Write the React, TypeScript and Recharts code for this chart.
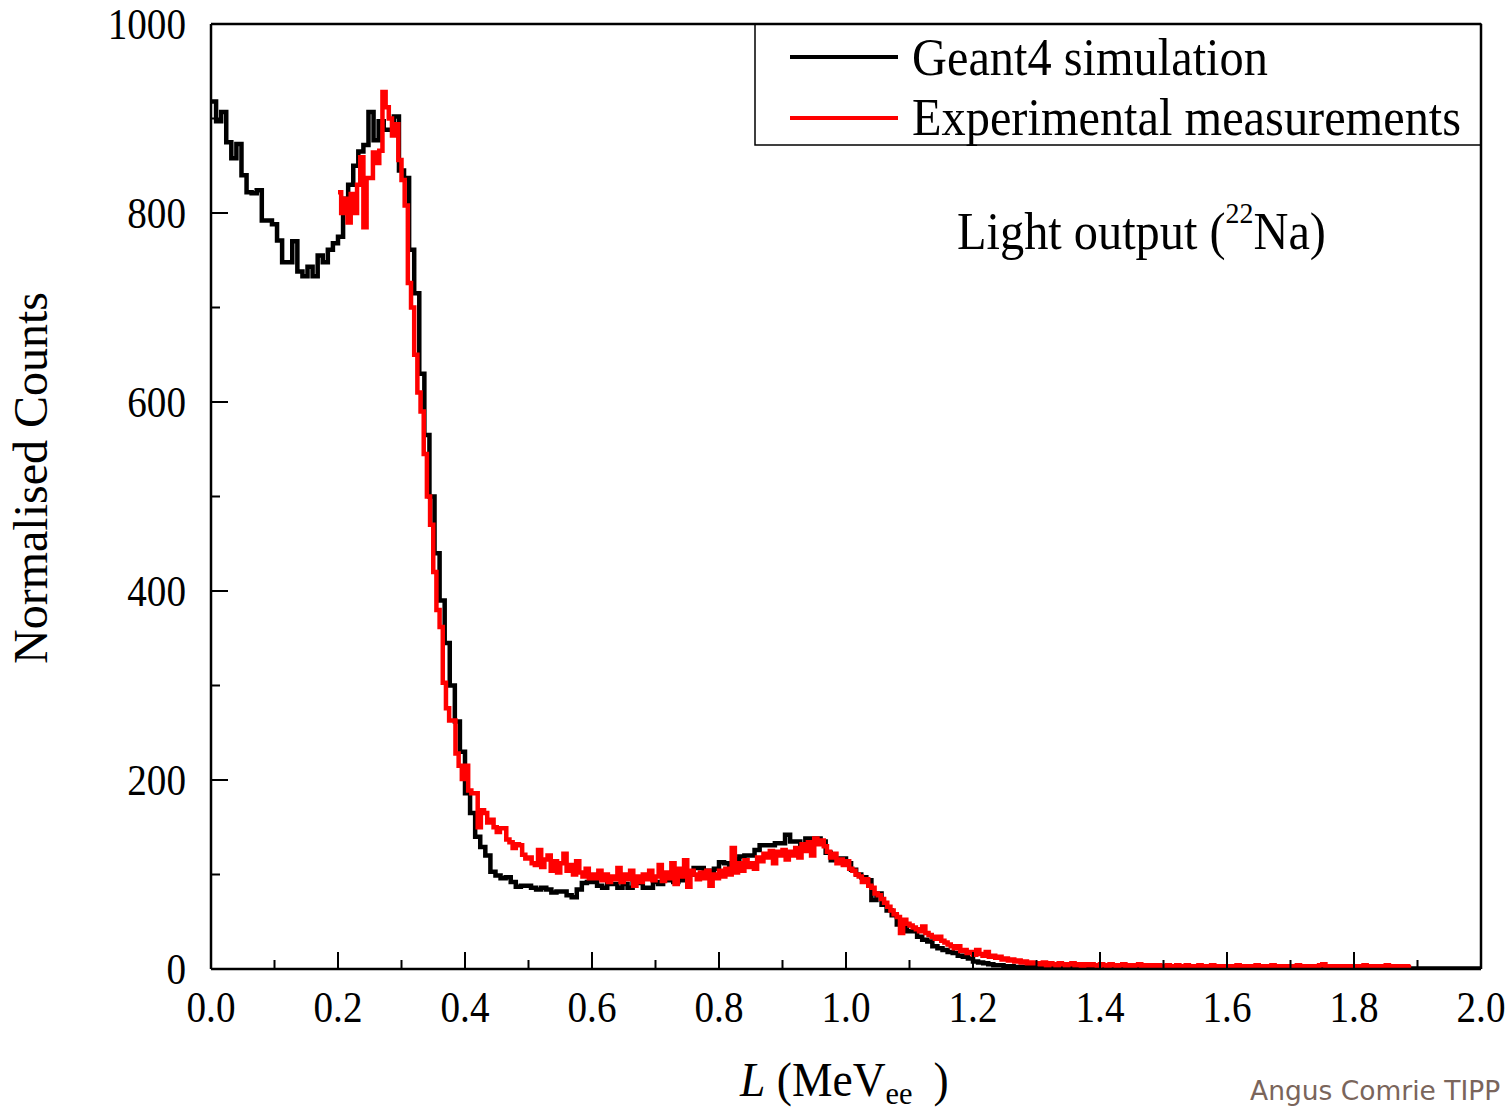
import React from 'react';
import { LineChart, Line, XAxis, YAxis, Customized } from 'recharts';

// Geant4 histogram, bins of 0.008 MeVee starting at 0
const SIM_BIN = 0.008;
const SIM_COUNTS = [
  918, 897, 907, 875, 858, 873, 840, 822, 821, 824, 792, 792, 788, 771, 748, 748, 770, 738, 733, 743, 733, 755, 748, 761, 768,
  775, 815, 830, 850, 865, 872, 907, 877, 897, 888, 888, 902, 845, 837, 761, 715, 630, 565, 500, 440, 390, 345, 300, 262, 230,
  186, 165, 140, 129, 120, 103, 99, 96, 97, 92, 87, 88, 88, 86, 84, 86, 84, 81, 82, 82, 78, 76, 84, 91, 92,
  92, 88, 86, 90, 90, 86, 90, 86, 91, 91, 86, 86, 92, 90, 94, 94, 92, 94, 96, 100, 107, 107, 104, 104, 106,
  113, 112, 110, 116, 119, 120, 120, 126, 131, 131, 131, 133, 133, 142, 135, 135, 131, 138, 138, 138, 135, 123, 115, 117, 117,
  112, 105, 100, 97, 94, 73, 80, 68, 62, 57, 47, 47, 40, 40, 34, 31, 29, 24, 22, 20, 18, 17, 14, 13, 11,
  8, 7, 6, 5, 4, 4, 3, 3, 2, 2, 2, 2, 1, 1, 1, 1, 1, 1, 1, 1, 1, 1, 1, 1, 1,
  1, 1, 1, 1, 1, 1, 1, 1, 1, 1, 1, 1, 1, 1, 1, 1, 1, 1, 1, 1, 1, 1, 1, 1, 1,
  1, 1, 1, 1, 1, 0.5, 0.5, 0.5, 0.5, 0.5, 0.5, 0.5, 0.5, 0.5, 0.5, 0.5, 0.5, 0.5, 0.5, 0.5, 0.5, 0.5, 0.5, 0.5, 0.5,
  0.5, 0.5, 0.5, 0.5, 0.5, 0.5, 0.5, 0.5, 0.5, 0.5, 0.5, 0.5, 0.5, 0.5, 0.5, 0.5, 0.5, 0.5, 0.5, 0.5, 0.5, 0.5, 0.5, 0.5, 0.5,
];

// Experimental histogram, bins of 0.005 MeVee starting at 0.2
const EXP_START = 0.2;
const EXP_BIN = 0.005;
const EXP_COUNTS = [
  822, 800, 815, 790, 820, 800, 830, 859, 785, 837, 837, 864, 853, 866, 928, 912, 900, 882, 894, 856,
  835, 808, 726, 700, 650, 610, 590, 545, 500, 470, 420, 380, 362, 303, 276, 263, 263, 228, 215, 201,
  215, 189, 186, 186, 150, 168, 165, 155, 158, 150, 145, 149, 149, 137, 134, 128, 132, 131, 121, 117,
  118, 112, 110, 126, 108, 116, 120, 104, 114, 102, 112, 122, 104, 110, 100, 114, 102, 98, 106, 96,
  100, 96, 104, 94, 100, 92, 98, 95, 107, 92, 100, 95, 104, 88, 98, 92, 100, 95, 104, 94,
  98, 110, 93, 102, 96, 112, 90, 106, 98, 115, 87, 104, 100, 95, 102, 96, 104, 88, 100, 96,
  104, 98, 106, 100, 128, 102, 112, 104, 115, 108, 112, 106, 118, 114, 122, 118, 125, 112, 124, 120,
  126, 116, 124, 120, 128, 118, 132, 125, 134, 120, 138, 132, 136, 130, 124, 118, 122, 112, 116, 110,
  114, 106, 104, 100, 98, 92, 95, 88, 86, 80, 78, 74, 70, 66, 62, 58, 55, 38, 52, 48,
  46, 44, 42, 40, 45, 38, 36, 34, 32, 34, 30, 28, 26, 24, 22, 24, 19, 20, 17, 18,
  15, 20, 16, 14, 18, 13, 14, 12, 13, 10, 11, 9, 10, 8, 9, 7, 8, 6, 7, 6,
  6, 5, 7, 4, 6, 5, 4, 6, 5, 4, 5, 6, 4, 5, 3, 5, 4, 5, 4, 3,
  5, 4, 3, 5, 4, 3, 4, 5, 3, 4, 3, 4, 5, 3, 4, 3, 4, 3, 4, 3,
  3, 4, 3, 2, 4, 3, 3, 4, 2, 3, 3, 4, 3, 2, 3, 4, 3, 2, 3, 3,
  3, 2, 3, 4, 2, 3, 3, 2, 3, 4, 3, 2, 3, 3, 4, 2, 3, 3, 2, 3,
  3, 2, 4, 3, 2, 3, 3, 2, 3, 4, 5, 3, 2, 3, 2, 3, 3, 2, 3, 2,
  3, 2, 3, 4, 2, 3, 3, 2, 3, 2, 4, 3, 2, 3, 3, 2, 3, 2,
];

const X_TICKS = [0, 0.1, 0.2, 0.3, 0.4, 0.5, 0.6, 0.7, 0.8, 0.9, 1.0, 1.1, 1.2, 1.3, 1.4, 1.5, 1.6, 1.7, 1.8, 1.9, 2.0];
const Y_TICKS = [0, 100, 200, 300, 400, 500, 600, 700, 800, 900, 1000];

const toSteps = (counts: number[], start: number, bin: number) => {
  const pts = counts.map((y, i) => ({ x: +(start + i * bin).toFixed(4), y }));
  pts.push({ x: +(start + counts.length * bin).toFixed(4), y: counts[counts.length - 1] });
  return pts;
};

const simData = toSteps(SIM_COUNTS, 0, SIM_BIN);
const expData = toSteps(EXP_COUNTS, EXP_START, EXP_BIN);

const SERIF = "'Liberation Serif', 'Times New Roman', serif";
const MAJOR = 17;
const MINOR = 9;

const SText = ({ x, y, size, sx = 0.93, anchor = 'start', children }: any) => (
  <text
    transform={`translate(${x},${y}) scale(${sx},1)`}
    textAnchor={anchor}
    fontSize={size}
    fontFamily={SERIF}
    fill="#000"
  >
    {children}
  </text>
);

const xMajor = (v: number) => Math.round(v * 10) % 2 === 0;
const yMajor = (v: number) => Math.round(v / 100) % 2 === 0;

const BottomTick = ({ x, y, payload }: any) => {
  const major = xMajor(payload.value);
  return (
    <g>
      <line x1={x} x2={x} y1={y} y2={y - (major ? MAJOR : MINOR)} stroke="#000" strokeWidth={2} />
      {major && (
        <SText x={x} y={y + 53} size={44} sx={0.89} anchor="middle">
          {payload.value.toFixed(1)}
        </SText>
      )}
    </g>
  );
};

const TopTick = ({ x, y, payload }: any) => {
  const major = xMajor(payload.value);
  return <line x1={x} x2={x} y1={y} y2={y + (major ? MAJOR : MINOR)} stroke="#000" strokeWidth={2} />;
};

const LeftTick = ({ x, y, payload }: any) => {
  const major = yMajor(payload.value);
  return (
    <g>
      <line x1={x} x2={x + (major ? MAJOR : MINOR)} y1={y} y2={y} stroke="#000" strokeWidth={2} />
      {major && (
        <SText x={x - 25} y={y + 15} size={44} sx={0.89} anchor="end">
          {payload.value}
        </SText>
      )}
    </g>
  );
};

const RightTick = ({ x, y, payload }: any) => {
  const major = yMajor(payload.value);
  return <line x1={x} x2={x - (major ? MAJOR : MINOR)} y1={y} y2={y} stroke="#000" strokeWidth={2} />;
};

const Overlay = () => (
  <g>
    {/* legend box */}
    <rect x={755} y={24} width={726} height={121} fill="#fff" stroke="#000" strokeWidth={1.5} />
    <line x1={790} x2={898} y1={57} y2={57} stroke="#000" strokeWidth={4} />
    <line x1={790} x2={898} y1={118} y2={118} stroke="#ff0000" strokeWidth={4} />
    <SText x={912} y={75} size={52}>Geant4 simulation</SText>
    <SText x={912} y={135} size={52}>Experimental measurements</SText>

    {/* annotation */}
    <SText x={957} y={249} size={52}>
      Light output (<tspan fontSize={30} dy={-26}>22</tspan>
      <tspan dy={26}>Na)</tspan>
    </SText>

    {/* axis titles */}
    <text
      transform="translate(47,478) rotate(-90)"
      textAnchor="middle"
      fontSize={48}
      fontFamily={SERIF}
      fill="#000"
    >
      Normalised Counts
    </text>
    <SText x={740} y={1096} size={48} sx={0.95}>
      <tspan fontStyle="italic">L</tspan>
      <tspan> (MeV</tspan>
      <tspan fontSize={32} dy={8}>ee</tspan>
      <tspan dy={-8} dx={22}>)</tspan>
    </SText>

    <text x={1250} y={1100} fontSize={26.5} fontFamily="'DejaVu Sans', sans-serif" fill="#7a655b">
      Angus Comrie TIPP
    </text>
  </g>
);

export default function App() {
  return (
    <div
      style={{
        position: 'absolute',
        left: 0,
        top: 0,
        width: 1512,
        height: 1113,
        overflow: 'hidden',
        background: '#fff',
      }}
    >
      <LineChart width={1512} height={1113} margin={{ top: 23, right: 30, bottom: 104, left: 151 }}>
        <XAxis
          dataKey="x"
          type="number"
          domain={[0, 2]}
          ticks={X_TICKS}
          interval={0}
          allowDataOverflow
          height={40}
          tickLine={false}
          tickSize={0}
          tickMargin={0}
          axisLine={{ stroke: '#000', strokeWidth: 2.5 }}
          tick={<BottomTick />}
        />
        <XAxis
          xAxisId="top"
          orientation="top"
          dataKey="x"
          type="number"
          domain={[0, 2]}
          ticks={X_TICKS}
          interval={0}
          height={1}
          tickLine={false}
          tickSize={0}
          tickMargin={0}
          axisLine={{ stroke: '#000', strokeWidth: 2.5 }}
          tick={<TopTick />}
        />
        <YAxis
          type="number"
          domain={[0, 1000]}
          ticks={Y_TICKS}
          interval={0}
          allowDataOverflow
          width={60}
          tickLine={false}
          tickSize={0}
          tickMargin={0}
          axisLine={{ stroke: '#000', strokeWidth: 2.5 }}
          tick={<LeftTick />}
        />
        <YAxis
          yAxisId="right"
          orientation="right"
          type="number"
          domain={[0, 1000]}
          ticks={Y_TICKS}
          interval={0}
          width={1}
          tickLine={false}
          tickSize={0}
          tickMargin={0}
          axisLine={{ stroke: '#000', strokeWidth: 2.5 }}
          tick={<RightTick />}
        />
        <Line
          data={simData}
          dataKey="y"
          type="stepAfter"
          stroke="#000"
          strokeWidth={4.5}
          dot={false}
          activeDot={false}
          isAnimationActive={false}
        />
        <Line
          data={expData}
          dataKey="y"
          type="stepAfter"
          stroke="#ff0000"
          strokeWidth={4.5}
          dot={false}
          activeDot={false}
          isAnimationActive={false}
        />
        <Customized component={Overlay} />
      </LineChart>
    </div>
  );
}
